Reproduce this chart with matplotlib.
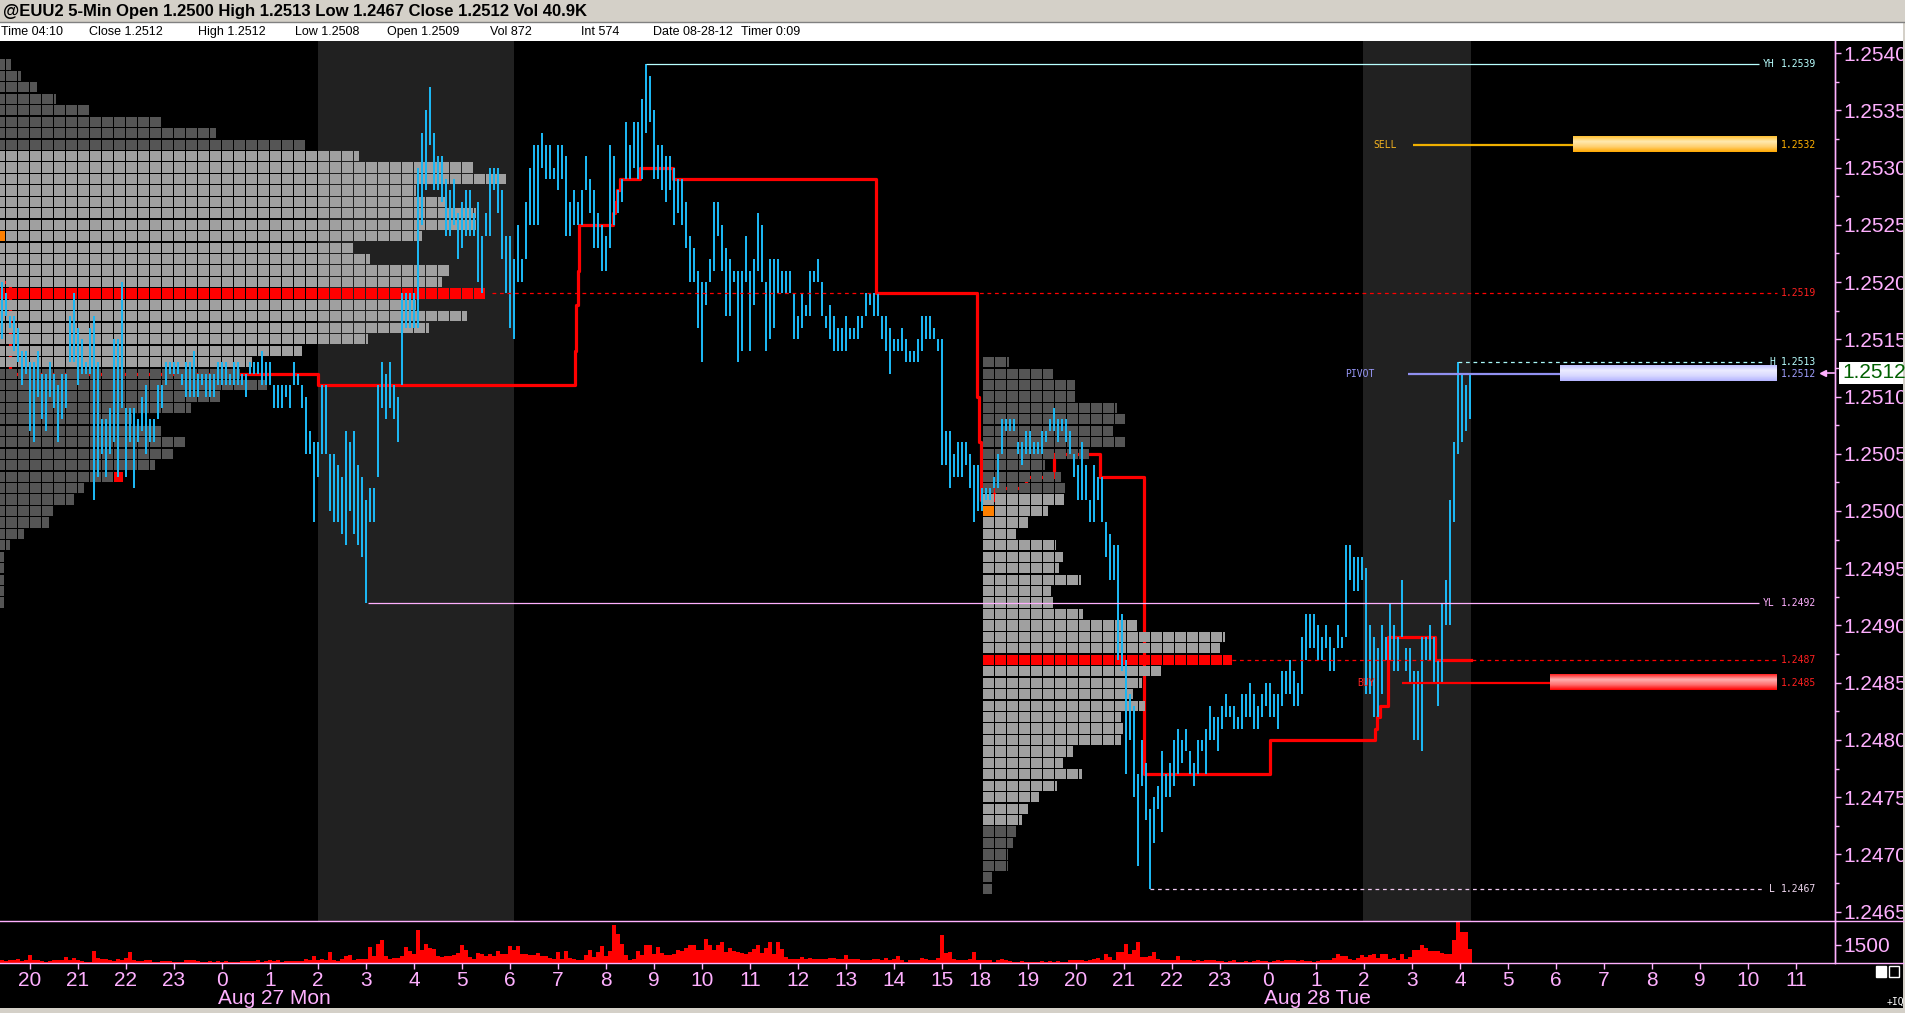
import numpy as np
import matplotlib
matplotlib.use("Agg")
import matplotlib.pyplot as plt
from matplotlib.patches import Rectangle
from matplotlib.collections import PatchCollection
from matplotlib.colors import LinearSegmentedColormap
from matplotlib.transforms import blended_transform_factory
from matplotlib.lines import Line2D
from matplotlib import font_manager

# ---------------------------------------------------------------- data
# prices are stored in pips above BASE (1 pip = 0.0001)
BASE = 1.2400
PIP = 0.0001

hours_s1 = ['20', '21', '22', '23', '0', '1', '2', '3', '4', '5', '6', '7',
            '8', '9', '10', '11', '12', '13', '14', '15']
hours_s2 = ['18', '19', '20', '21', '22', '23', '0', '1', '2', '3', '4', '5',
            '6', '7', '8', '9', '10', '11']
date_labels = ['Aug 27 Mon', 'Aug 28 Tue']

# 5-minute bars, session 1 (bar index -7 .. 239)
hi_s1 = [120, 119, 117, 117, 116, 114, 114,
         113, 113, 114, 112, 112, 113, 112, 111, 112, 112, 117, 119,
         116, 115, 113, 116, 117, 113, 108, 108, 109, 115, 115, 120,
         109, 109, 109, 108, 110, 111, 108, 108, 111, 111, 113, 113,
         113, 113, 112, 113, 113, 114, 112, 112, 112, 112, 112, 113,
         113, 113, 112, 113, 113, 112, 112, 113, 113, 113, 114, 113,
         113, 111, 111, 111, 111, 111, 113, 112, 111, 110, 107, 106,
         106, 111, 111, 105, 105, 104, 103, 107, 106, 107, 104, 103,
         101, 102, 102, 111, 113, 112, 113, 111, 110, 119, 119, 119,
         119, 130, 133, 135, 137, 133, 131, 131, 129, 128, 129, 126,
         127, 128, 128, 126, 127, 124, 126, 130, 130, 130, 128, 124,
         124, 122, 125, 122, 127, 130, 132, 132, 133, 132, 132, 130,
         132, 132, 131, 127, 128, 127, 128, 131, 129, 128, 126, 125,
         124, 132, 131, 128, 129, 134, 132, 134, 134, 136, 139, 138,
         135, 132, 132, 131, 131, 130, 129, 129, 127, 124, 123, 121,
         120, 120, 122, 127, 127, 125, 123, 122, 121, 121, 121, 124,
         121, 122, 126, 125, 120, 122, 122, 122, 121, 121, 121, 119,
         117, 119, 118, 121, 121, 122, 120, 117, 118, 117, 116, 116,
         117, 116, 116, 117, 117, 119, 119, 119, 119, 117, 117, 116,
         115, 115, 116, 115, 114, 114, 115, 117, 117, 117, 116, 115,
         115, 107, 107, 105, 106, 106, 106, 105, 104, 104, 102, 102]
lo_s1 = [115, 117, 116, 114, 113, 111, 112,
         107, 106, 110, 108, 107, 110, 109, 106, 108, 109, 113, 113,
         111, 112, 112, 112, 101, 103, 105, 103, 105, 106, 103, 109,
         103, 106, 102, 106, 107, 105, 106, 106, 108, 109, 111, 112,
         112, 112, 111, 110, 110, 110, 110, 111, 110, 110, 110, 111,
         111, 111, 111, 111, 111, 111, 110, 112, 112, 112, 111, 111,
         111, 109, 109, 109, 110, 109, 111, 111, 109, 105, 105, 99,
         103, 105, 105, 100, 99, 99, 98, 97, 100, 98, 97, 96,
         92, 99, 99, 103, 109, 108, 109, 108, 106, 111, 116, 116,
         116, 116, 125, 128, 132, 128, 128, 127, 124, 124, 125, 122,
         123, 124, 124, 124, 120, 119, 124, 124, 128, 126, 122, 119,
         116, 115, 120, 120, 122, 125, 125, 125, 130, 129, 129, 129,
         128, 129, 124, 124, 125, 125, 125, 128, 126, 123, 123, 121,
         121, 123, 125, 126, 127, 129, 129, 130, 129, 129, 133, 134,
         129, 129, 128, 127, 128, 125, 126, 125, 123, 120, 120, 116,
         113, 118, 120, 121, 124, 121, 117, 117, 120, 113, 114, 120,
         114, 118, 121, 120, 114, 115, 116, 119, 119, 119, 119, 115,
         115, 116, 117, 117, 120, 120, 117, 116, 115, 114, 114, 114,
         114, 115, 115, 115, 116, 117, 118, 117, 117, 115, 114, 112,
         114, 114, 114, 113, 113, 113, 113, 114, 115, 115, 115, 114,
         104, 104, 102, 103, 103, 103, 104, 102, 99, 100, 100, 101]
# session 2 (bar index 240 .. 360)
hi_s2 = [102, 103, 105, 108, 108, 108, 108, 106, 106, 107, 107, 106,
         106, 107, 107, 108, 109, 108, 108, 108, 107, 105, 104, 106,
         104, 101, 104, 103, 103, 99, 98, 97, 97, 91, 87, 84,
         83, 77, 80, 78, 74, 75, 76, 79, 77, 78, 80, 81,
         80, 81, 79, 78, 80, 80, 81, 83, 82, 82, 83, 84,
         83, 83, 82, 84, 84, 85, 84, 83, 84, 85, 85, 84,
         84, 86, 86, 87, 86, 85, 89, 91, 91, 91, 90, 89,
         90, 89, 88, 90, 89, 97, 97, 96, 96, 96, 95, 90,
         89, 88, 90, 89, 92, 90, 89, 94, 88, 88, 86, 86,
         89, 89, 90, 89, 87, 92, 94, 101, 106, 113, 112, 111, 112]
lo_s2 = [101, 102, 102, 105, 107, 107, 107, 105, 104, 105, 105, 105,
         105, 105, 106, 107, 107, 106, 107, 106, 105, 103, 101, 101,
         101, 99, 99, 101, 99, 96, 94, 94, 87, 86, 77, 80,
         75, 69, 76, 73, 67, 71, 74, 72, 75, 75, 76, 77,
         78, 79, 77, 76, 77, 79, 77, 80, 80, 79, 81, 82,
         82, 81, 81, 81, 82, 82, 81, 81, 82, 83, 82, 82,
         81, 83, 84, 84, 83, 83, 84, 87, 88, 88, 87, 87,
         88, 86, 86, 88, 88, 89, 94, 93, 93, 94, 84, 84,
         82, 82, 84, 87, 87, 86, 86, 89, 86, 85, 80, 80,
         79, 87, 87, 85, 83, 85, 90, 90, 99, 105, 106, 107, 108]

# volume per bar
vol_s1 = [220, 170, 280, 220, 360, 170, 280,
          640, 280, 220, 170, 80, 170, 220, 280, 220, 500, 280, 450,
          280, 170, 80, 80, 980, 450, 360, 310, 220, 170, 360, 220,
          450, 920, 220, 170, 170, 280, 220, 80, 80, 140, 140, 140,
          80, 80, 80, 220, 220, 280, 170, 80, 80, 170, 80, 170,
          80, 170, 80, 80, 80, 140, 140, 140, 140, 280, 80, 170,
          220, 170, 220, 80, 140, 140, 170, 140, 140, 360, 280, 590,
          280, 360, 280, 900, 280, 170, 360, 590, 700, 220, 360, 310,
          360, 1340, 590, 1620, 1900, 590, 360, 420, 420, 590, 1340, 980,
          780, 2740, 1120, 1620, 1260, 1200, 560, 500, 620, 620, 640, 840,
          1480, 1060, 500, 310, 870, 780, 590, 780, 590, 980, 780, 730,
          1400, 1120, 1400, 780, 730, 700, 700, 840, 590, 560, 420, 310,
          920, 360, 980, 420, 360, 220, 220, 640, 1060, 500, 920, 1400,
          590, 980, 3160, 2410, 1620, 640, 280, 360, 980, 700, 1540, 1540,
          780, 1340, 840, 700, 700, 780, 1060, 980, 1260, 1480, 1480, 1060,
          1060, 1960, 1540, 1060, 1540, 1710, 920, 1260, 980, 920, 840, 780,
          920, 1200, 1480, 840, 1290, 1710, 780, 1760, 1150, 500, 360, 310,
          310, 500, 360, 420, 310, 310, 360, 360, 420, 420, 360, 310,
          700, 310, 310, 360, 220, 220, 220, 310, 310, 280, 450, 220,
          310, 590, 220, 80, 220, 220, 220, 420, 360, 220, 280, 420,
          2320, 840, 920, 360, 220, 220, 280, 360, 920, 220, 280, 220]
vol_s2 = [220, 80, 220, 310, 220, 170, 80, 80, 170, 80, 80, 80,
          80, 170, 80, 170, 80, 170, 80, 80, 220, 280, 280, 220,
          170, 220, 310, 420, 280, 730, 500, 280, 920, 920, 1620, 780,
          1060, 1760, 500, 500, 590, 920, 360, 280, 220, 280, 220, 590,
          220, 220, 280, 170, 220, 170, 280, 220, 220, 170, 170, 80,
          170, 220, 80, 80, 170, 80, 170, 220, 170, 170, 80, 170,
          280, 170, 220, 220, 280, 170, 220, 170, 170, 80, 170, 280,
          220, 280, 420,
          730, 560, 560, 360, 220, 420, 640, 500, 640, 780, 450, 730, 780, 310, 450, 280,
          730, 360, 500, 1060, 1060, 1480, 1290, 1010, 1010, 1010, 840, 780, 730, 1900,
          3640, 2550, 2600, 1200]

# market profiles (row length in TPO squares), rows listed from top price down
prof1_top = 139
prof1_len = [1.5, 2.33, 3.67, 5.25, 8.0, 14.0, 18.6, 26.0,
             30.5, 40.0, 42.7, 35.25, 37.7, 40.25, 40.25, 35.75, 30.0, 31.4, 38.0, 37.4,
             41.0, 35.25, 39.5, 36.3, 31.25, 25.75, 21.6,
             20.6, 22.8, 18.9, 16.5, 11.6, 14.0, 16.0, 15.0, 13.5, 10.8, 7.6, 6.75,
             5.0, 4.67, 2.6, 1.4, 0.9, 0.9, 0.9, 0.9, 0.9]
prof1_va = (113, 131)
prof1_poc = 119
prof1_open = 124
prof1_mark = 103

prof2_top = 113
prof2_len = [2.25, 5.9, 7.7, 7.7, 11.2, 11.9, 10.9, 11.9, 8.9, 5.2, 6.6, 6.9,
             6.8, 5.5, 3.8, 2.8, 6.1, 6.7, 6.4, 8.2, 5.7, 5.9, 8.4, 12.9, 20.2, 19.8,
             20.8, 14.9, 13.3, 12.6, 13.6, 11.6, 11.7, 11.6, 7.6, 6.7, 8.3, 6.2, 4.7,
             3.8, 3.3, 2.8, 2.6, 2.1, 2.1, 0.8, 0.8]
prof2_va = (73, 101)
prof2_poc = 87
prof2_open = 100

# developing point of control (step line): start bar, level
dpoc_x = [-7.5, -5, 72, 136.3, 136.6, 136.9, 137.2, 145.8, 146.3, 146.8, 147.4, 152.6,
          160.8, 211.6, 236.8, 237.2, 237.7, 241, 249, 256, 267.5, 278.6, 310, 336.2,
          336.8, 337.4, 339.6, 351.2, 360.2]
dpoc_y = [120, 112, 111, 114, 118, 121, 125, 126, 127, 128, 129, 130,
          129, 119, 110, 106, 101, 102, 103, 105, 103, 77, 80, 81,
          82, 83, 89, 87, 87]

# reference levels
yh, yl = 139, 92          # yesterday high / low
day_h, day_l = 113, 67    # today high / low
sell_lvl, pivot_lvl, buy_lvl = 132, 112, 85
last_price = 112

header1 = "@EUU2 5-Min Open 1.2500 High 1.2513 Low 1.2467 Close 1.2512 Vol 40.9K"
header2 = ["Time 04:10", "Close 1.2512", "High 1.2512", "Low 1.2508", "Open 1.2509",
           "Vol 872", "Int 574", "Date 08-28-12", "Timer 0:09"]

# ---------------------------------------------------------------- style
names = {f.name for f in font_manager.fontManager.ttflist}
NARROW = 'Liberation Sans Narrow' if 'Liberation Sans Narrow' in names else 'Liberation Sans'
plt.rcParams['font.family'] = [NARROW, 'DejaVu Sans']

PINK = '#ffb0ff'
CYAN = '#1cb6f2'
DARK = '#555555'
LIGHT = '#a0a0a0'
W, H, DPI = 1906, 1013, 100

fig = plt.figure(figsize=(W / DPI, H / DPI), dpi=DPI, facecolor='black')


def fx(px):
    return px / W


def fy(py):
    return 1 - py / H


# price panel: pixel rows 41..921, columns 0..1835
ax = fig.add_axes([0, fy(921), fx(1835), (921 - 41) / H])
vax = fig.add_axes([0, fy(963), fx(1835), (963 - 921) / H])
XL = (-7.5, 451.25)
YL_ = (64.19, 141.05)
for a in (ax, vax):
    a.set_facecolor('black')
    a.set_xlim(*XL)
    for s in ('top', 'left', 'bottom'):
        a.spines[s].set_visible(False)
    a.spines['right'].set_color(PINK)
    a.spines['right'].set_linewidth(1.0)
ax.set_ylim(*YL_)

# shaded sessions
ax.axvspan(72, 121, color='#212121', zorder=0, lw=0)
ax.axvspan(333.25, 360.25, color='#212121', zorder=0, lw=0)

# developing POC step line
ax.step(dpoc_x, dpoc_y, where='post', color='#ff0000', lw=2.3, zorder=1.5)


def draw_profile(start, top, lengths, va, poc, open_p, mark=None):
    rects, cols = [], []
    gx, gy = 0.2, 0.11
    for i, n in enumerate(lengths):
        p = top - i
        if p == poc:
            c = '#ff0000'
        elif va[0] <= p <= va[1]:
            c = LIGHT
        else:
            c = DARK
        nsq = int(np.ceil(n - 1e-9))
        for k in range(nsq):
            w = min(1.0, n - k) * 3
            fc = c
            if k == 0 and p == open_p:
                fc = '#ff8000'
            if mark is not None and p == mark and k == nsq - 1:
                fc = '#ff0000'
            rects.append(Rectangle((start + 3 * k, p - 0.5 + gy / 2), max(w - gx, 0.3), 1 - gy))
            cols.append(fc)
    ax.add_collection(PatchCollection(rects, facecolors=cols, edgecolors='none', zorder=2))


draw_profile(-9, prof1_top, prof1_len, prof1_va, prof1_poc, prof1_open, prof1_mark)
draw_profile(238.25, prof2_top, prof2_len, prof2_va, prof2_poc, prof2_open)

# price bars
hi = np.array(hi_s1 + hi_s2, dtype=float)
lo = np.array(lo_s1 + lo_s2, dtype=float)
bx = np.arange(-7, -7 + len(hi))
ax.vlines(bx, lo, hi, color=CYAN, lw=1.1, zorder=3, antialiased=False)

# reference lines
END = 436.75
ax.hlines(yh, 154, 432.25, color='#b8ffff', lw=0.9, zorder=4)
ax.hlines(yl, 84.5, 432.25, color=PINK, lw=0.9, zorder=4)
ax.hlines(day_h, 357, 433.75, color='#a8f8f8', lw=0.9, ls=(0, (3, 3)), zorder=4)
ax.hlines(day_l, 280, 433.75, color='#f0c8f0', lw=0.9, ls=(0, (3, 3)), zorder=4)
ax.hlines(prof1_poc, 115.5, END, color='#ff0000', lw=0.9, ls=(0, (3, 3)), zorder=4)
ax.hlines(prof2_poc, 300.5, END, color='#ff0000', lw=0.9, ls=(0, (3, 3)), zorder=4)
ax.hlines(sell_lvl, 345.75, 385.75, color='#f0b000', lw=1.6, zorder=4)
ax.hlines(pivot_lvl, 344.5, 382.5, color='#9090f0', lw=1.6, zorder=4)
ax.hlines(buy_lvl, 343, 380, color='#ff0000', lw=1.6, zorder=4)


def grad_bar(x0, x1, yc, colors):
    cmap = LinearSegmentedColormap.from_list('g', colors)
    arr = np.linspace(0, 1, 64).reshape(-1, 1)
    ax.imshow(arr, cmap=cmap, extent=[x0, x1, yc - 0.66, yc + 0.66], aspect='auto',
              origin='lower', zorder=5, interpolation='bilinear')


grad_bar(385.75, END, sell_lvl, ['#ffa800', '#ffd070', '#ffeab0', '#ffc030'])
grad_bar(382.5, END, pivot_lvl, ['#b4b4ff', '#d8d8ff', '#ececff', '#c0c0ff'])
grad_bar(380, END, buy_lvl, ['#ff0000', '#ff7070', '#ffb0b0', '#ff2020'])
ax.set_xlim(*XL)
ax.set_ylim(*YL_)

# level labels
MONO = 'DejaVu Sans Mono'
lab_kw = dict(fontsize=7, family=MONO, va='center', zorder=6, clip_on=False)
VX, PX = 437.75, 436.25


def fmt(p):
    return f"{BASE + p * PIP:.4f}"


for lvl, txt, col in [(yh, 'YH', '#b8ffff'), (yl, 'YL', PINK), (day_h, 'H', '#b8ffff'),
                      (day_l, 'L', '#f0d8f0')]:
    ax.text(PX, lvl, txt, ha='right', color=col, **lab_kw)
    ax.text(VX, lvl, fmt(lvl), ha='left', color=col, **lab_kw)
ax.text(VX, sell_lvl, fmt(sell_lvl), color='#ffb000', **lab_kw)
ax.text(VX, pivot_lvl, fmt(pivot_lvl), color='#a0a0ff', **lab_kw)
ax.text(VX, buy_lvl, fmt(buy_lvl), color='#ff2020', **lab_kw)
ax.text(VX, prof1_poc, fmt(prof1_poc), color='#ff2020', **lab_kw)
ax.text(VX, prof2_poc, fmt(prof2_poc), color='#ff2020', **lab_kw)
ax.text(335.75, sell_lvl, 'SELL', color='#f0b020', **lab_kw)
ax.text(328.75, pivot_lvl, 'PIVOT', color='#9898f8', **lab_kw)
ax.text(331.75, buy_lvl, 'BUY', color='#ff2020', **lab_kw)

# price axis
ax.yaxis.tick_right()
ax.set_xticks([])
yt = np.arange(65, 141, 5)
ax.set_yticks(yt)
ax.set_yticklabels([fmt(p) for p in yt])
ax.set_yticks(np.arange(67.5, 141, 5), minor=True)
ax.tick_params(axis='y', which='major', direction='out', length=4, width=1, colors=PINK,
               labelsize=15, pad=2)
ax.tick_params(axis='y', which='minor', direction='out', length=3, width=1, colors=PINK)

# volume panel
vol = np.array(vol_s1 + vol_s2, dtype=float)
vax.bar(bx, vol, width=0.78, color='#ff0000', zorder=2)
vax.set_ylim(0, 3500)
vax.yaxis.tick_right()
vax.set_yticks([1500])
vax.set_yticklabels(['1500'])
vax.tick_params(axis='y', direction='out', length=4, width=1, colors=PINK, labelsize=15, pad=2)
xt = [12 * i for i in range(len(hours_s1))] + [237.5 + 12 * j for j in range(len(hours_s2))]
vax.set_xticks(xt)
vax.set_xticklabels(hours_s1 + hours_s2)
vax.tick_params(axis='x', direction='out', length=4, width=1, colors=PINK, labelsize=15, pad=2)
trans = blended_transform_factory(vax.transData, fig.transFigure)
vax.text(12 * hours_s1.index('0') - 1, fy(998), date_labels[0], transform=trans, color=PINK,
         fontsize=15, ha='left', va='center')
vax.text(237.5 + 12 * hours_s2.index('0') - 1, fy(998), date_labels[1], transform=trans,
         color=PINK, fontsize=15, ha='left', va='center')

# full-width separators
for yy in (921, 963):
    fig.add_artist(Line2D([0, fx(1903)], [fy(yy), fy(yy)], color=PINK, lw=1.0))
fig.add_artist(Line2D([fx(1835.5), fx(1835.5)], [fy(41), fy(963)], color=PINK, lw=1.0))

# header
fig.add_artist(Rectangle((0, fy(22)), 1, 22 / H, transform=fig.transFigure,
                         facecolor='#d4d0c8', edgecolor='none'))
fig.add_artist(Rectangle((0, fy(41)), 1, 18.5 / H, transform=fig.transFigure,
                         facecolor='white', edgecolor='none'))
fig.add_artist(Line2D([0, 1], [fy(22.5), fy(22.5)], color='#808080', lw=1))
fig.text(fx(3), fy(11.5), header1, fontsize=12.0, fontweight='bold', family='Liberation Sans',
         color='black', va='center', ha='left')
hx = [1, 89, 198, 295, 387, 490, 581, 653, 741]
for x, t in zip(hx, header2):
    fig.text(fx(x), fy(32), t, fontsize=9.0, color='black', va='center', ha='left',
             family='Liberation Sans')

# bottom / right borders
fig.add_artist(Rectangle((0, 0), 1, 5 / H, transform=fig.transFigure, facecolor='#d4d0c8',
                         edgecolor='none'))
fig.add_artist(Rectangle((fx(1903), 0), 3 / W, 1, transform=fig.transFigure,
                         facecolor='#d4d0c8', edgecolor='none'))

# last price marker
fig.add_artist(Rectangle((fx(1839), fy(384)), 64 / W, 22 / H, transform=fig.transFigure,
                         facecolor='white', edgecolor='none'))
fig.text(fx(1842), fy(373), fmt(last_price), fontsize=15, color='#006000', va='center',
         ha='left')
fig.add_artist(Line2D([fx(1823), fx(1834)], [fy(373), fy(373)], color=PINK, lw=1.2))
fig.add_artist(Line2D([fx(1823)], [fy(373)], marker='<', ms=5, color=PINK, mec=PINK))

# small window controls
fig.add_artist(Rectangle((fx(1876), fy(977)), 10 / W, 11 / H, transform=fig.transFigure,
                         facecolor='white', edgecolor='white'))
fig.add_artist(Rectangle((fx(1889), fy(977)), 10 / W, 11 / H, transform=fig.transFigure,
                         facecolor='none', edgecolor='white', lw=1))
fig.text(fx(1887), fy(1002), '+IQ', fontsize=7, color='white', family=MONO, va='center')

fig.savefig('out.png', dpi=DPI, facecolor='black')
